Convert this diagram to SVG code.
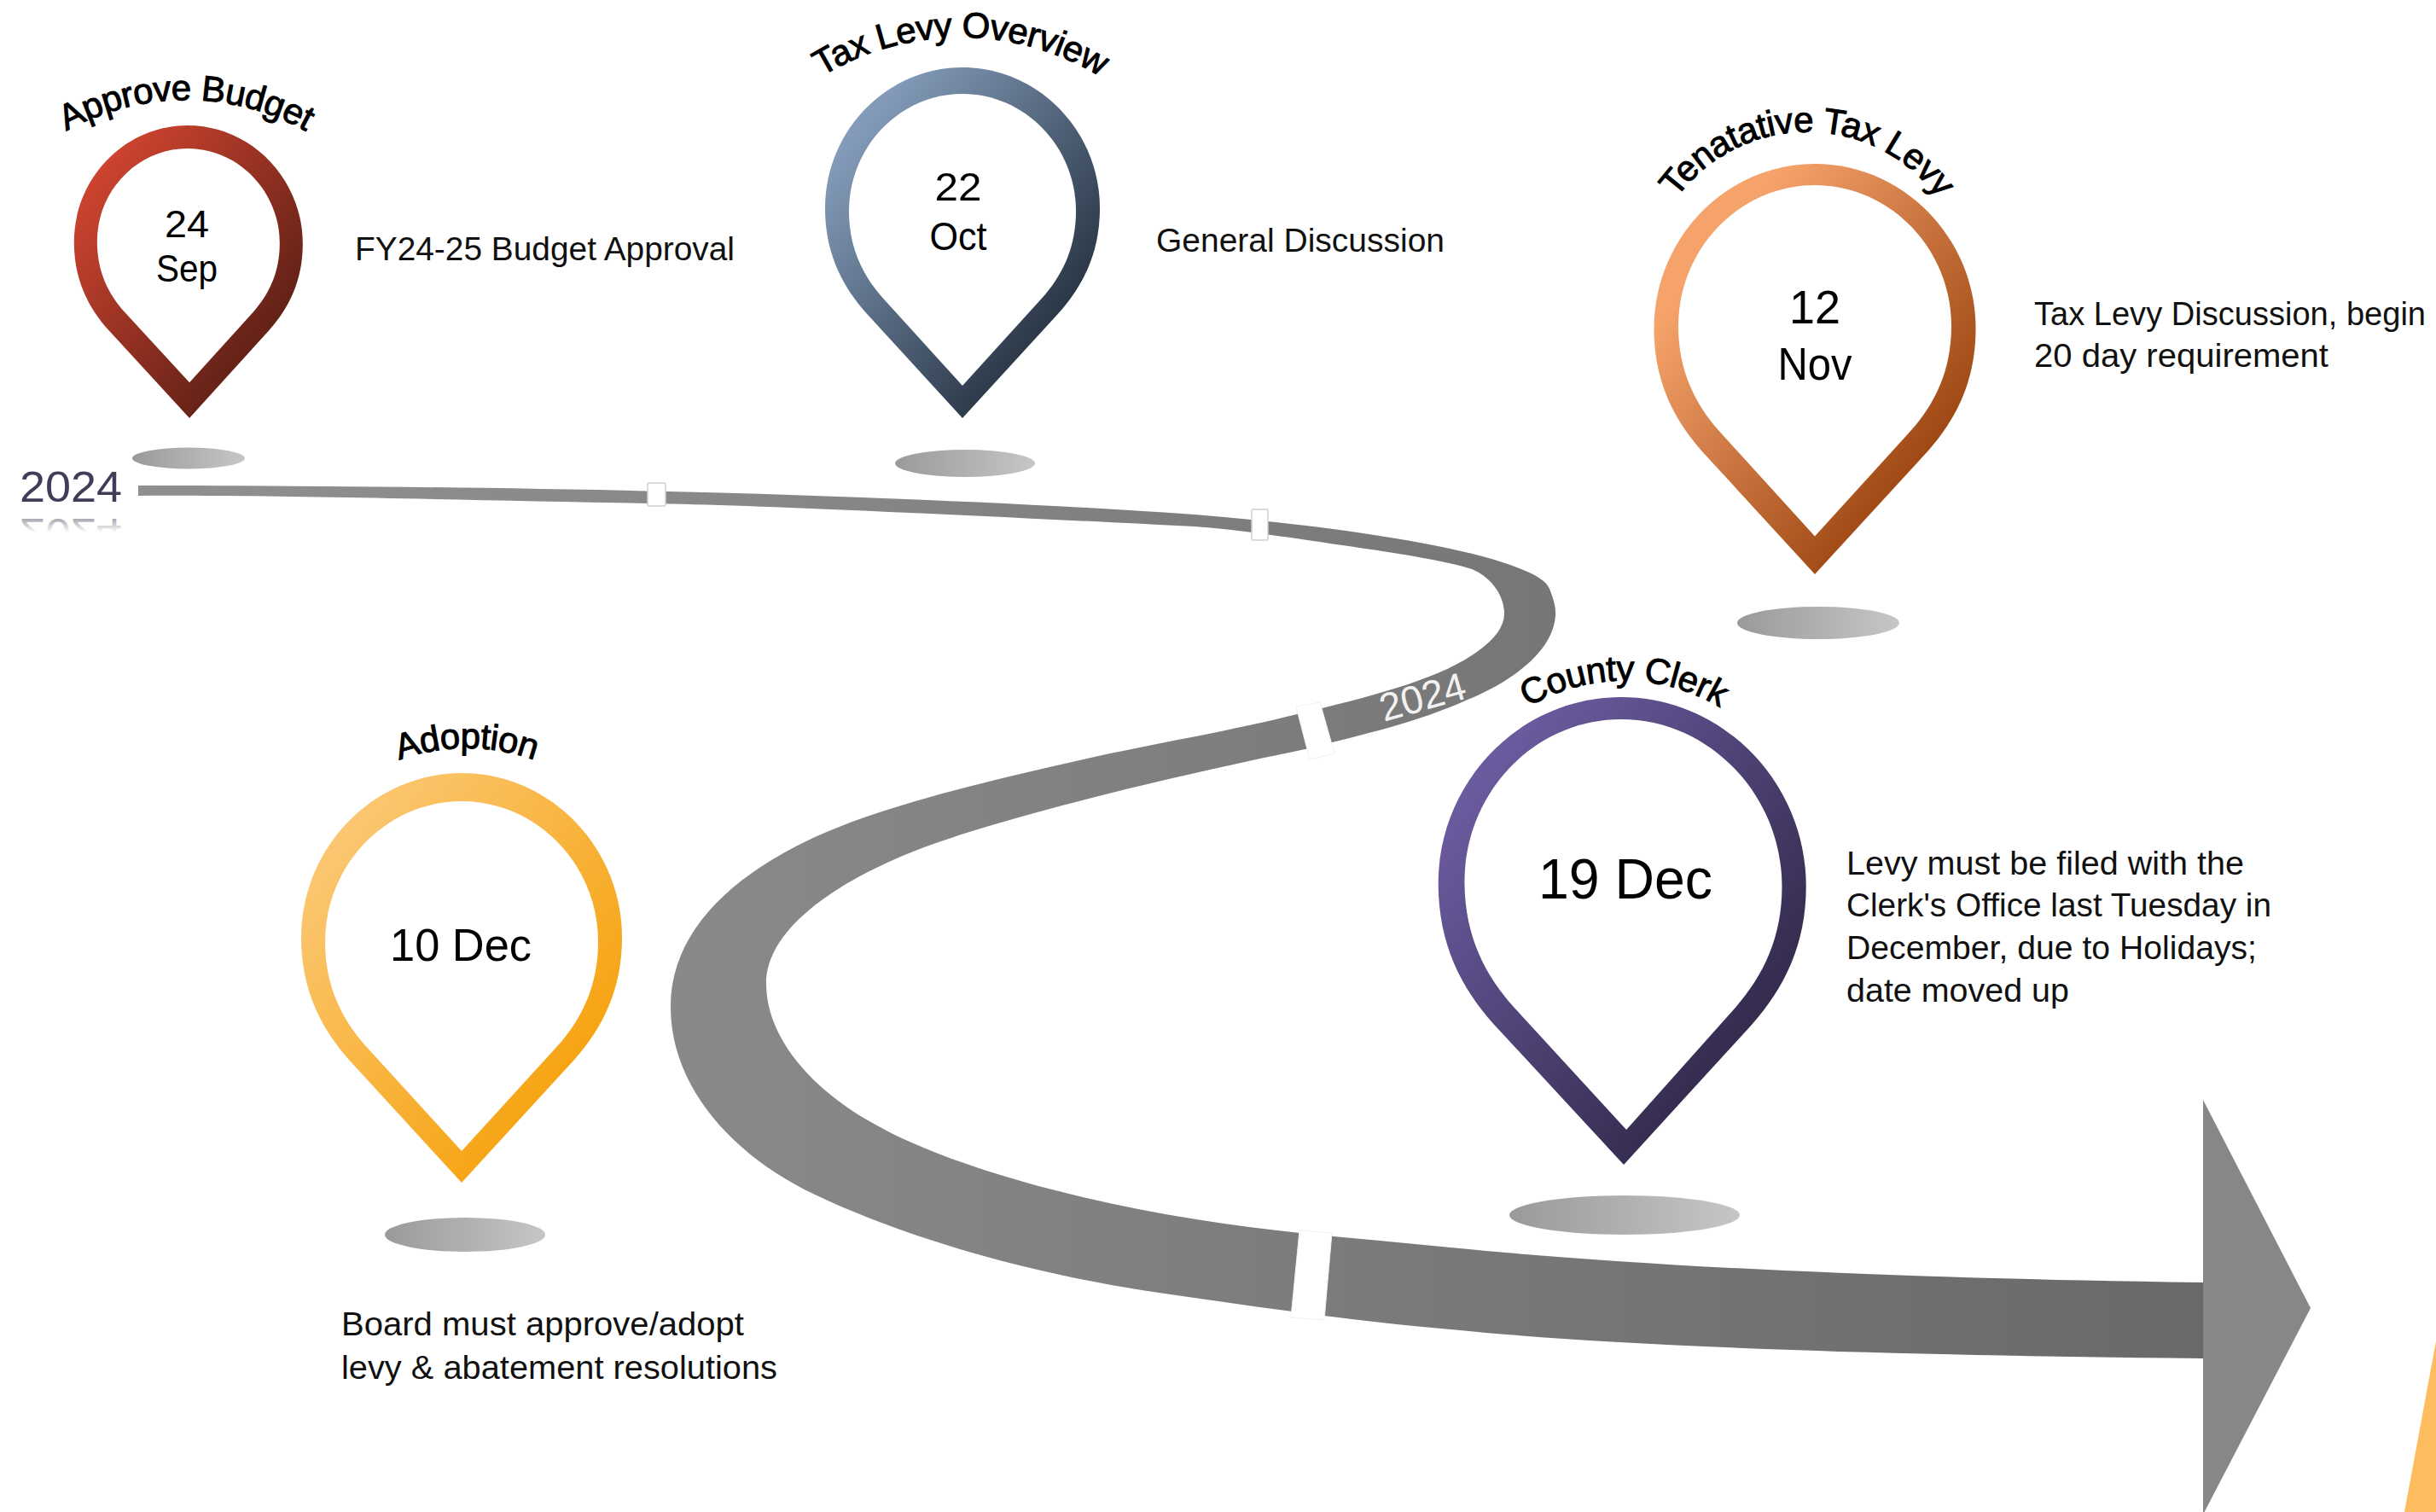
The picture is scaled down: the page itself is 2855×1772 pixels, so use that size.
<svg xmlns="http://www.w3.org/2000/svg" width="2855" height="1772" viewBox="0 0 2855 1772">
<style>
text{font-family:"Liberation Sans",Arial,sans-serif;fill:#000}
.arc{font-size:42px;stroke:#000;stroke-width:1px;letter-spacing:-.6px;text-anchor:middle}
.date{text-anchor:middle}
.body{font-size:38px;fill:#111}
.tick{fill:#fff;stroke:#cfcfcf;stroke-width:1.5}
.tick-big{fill:#fff;stroke:#f0f0f0;stroke-width:1}
.inner{fill:#fff}
.shadow{fill:url(#gShadow)}
</style>
<defs>
<path id="pin" d="M0,254 L-70,178 C-88,158 -100,134 -100,102 C-100,46 -55,0 0,0 C55,0 100,46 100,102 C100,134 88,158 70,178 Z"/>
<linearGradient id="gRed" x1="0" y1="0" x2="1" y2="1"><stop offset=".12" stop-color="#cf4430"/><stop offset=".88" stop-color="#521c13"/></linearGradient>
<linearGradient id="gBlue" x1="0" y1="0" x2="1" y2="1"><stop offset=".15" stop-color="#839bb9"/><stop offset=".88" stop-color="#1c2734"/></linearGradient>
<linearGradient id="gOrange" x1="0" y1="0" x2="1" y2="1"><stop offset=".2" stop-color="#f5a26b"/><stop offset=".8" stop-color="#9c4510"/></linearGradient>
<linearGradient id="gYellow" x1="0" y1="0" x2="1" y2="1"><stop offset=".15" stop-color="#fbc66f"/><stop offset=".8" stop-color="#f6a310"/></linearGradient>
<linearGradient id="gPurple" x1="0" y1="0" x2="1" y2="1"><stop offset=".15" stop-color="#6a5a9e"/><stop offset=".85" stop-color="#2e2645"/></linearGradient>
<linearGradient id="gShadow" x1="0" y1="0" x2="1" y2="0"><stop offset="0" stop-color="#9a9a9a"/><stop offset="1" stop-color="#c6c6c6"/></linearGradient>
<linearGradient id="gRoad" gradientUnits="userSpaceOnUse" x1="162" y1="0" x2="2582" y2="0"><stop offset="0" stop-color="#8f8f8f"/><stop offset=".3" stop-color="#888"/><stop offset=".65" stop-color="#787878"/><stop offset="1" stop-color="#696969"/></linearGradient>
<linearGradient id="gRefl" gradientUnits="userSpaceOnUse" x1="0" y1="588" x2="0" y2="572"><stop offset="0" stop-color="#a8a8b0"/><stop offset="1" stop-color="#fff"/></linearGradient>
<path id="a1" d="M34,184 A287,287 0 0 1 402,184"/>
<path id="a2" d="M925,117 A313,313 0 0 1 1327,117"/>
<path id="a3" d="M1931,311 A190,190 0 0 1 2305,311"/>
<path id="a4" d="M431,908 A232,232 0 0 1 663,908"/>
<path id="a5" d="M1737,875 A217,217 0 0 1 2069,875"/>
</defs>
<rect width="2855" height="1772" fill="#fff"/>
<g id="connectors">
<path id="road" fill="url(#gRoad)" d="M162,569 C500,569 1000,575 1400,603 C1550,615 1700,637 1770,662 C1798,672 1812,680 1816,690 C1820,700 1824,712 1823,722 C1820,760 1780,795 1720,820 C1660,847 1600,860 1530,878 C1400,905 1200,950 1083,993 C990,1028 898,1085 898,1153 C898,1215 950,1275 1019,1314 C1100,1362 1250,1405 1402,1429 C1500,1445 1600,1452 1700,1462 C1900,1482 2200,1498 2582,1503 L2582,1592 C2200,1588 1900,1578 1700,1558 C1580,1548 1450,1528 1338,1512 C1200,1490 1060,1450 955,1400 C860,1355 786,1275 786,1180 C786,1090 860,1025 955,981 C1040,943 1150,917 1274,889 C1350,872 1450,855 1520,837 C1600,818 1680,798 1725,768 C1750,752 1764,735 1763,717 C1762,695 1745,675 1725,667 C1705,660 1650,650 1600,643 C1560,637 1450,620 1400,617 C1200,607 900,592 760,590 C500,585 300,580 162,581 Z"/>
<polygon id="arrowhead" fill="#878787" points="2582,1289 2708,1533 2582,1775"/>
<rect class="tick" x="759" y="566" width="21" height="27" rx="2"/>
<rect class="tick" x="1467" y="597" width="19" height="36" rx="1"/>
<polygon class="tick-big" points="1519,828 1547,823 1564,883 1535,890"/>
<polygon class="tick-big" points="1523,1442 1561,1445 1552,1547 1513,1544"/>
<text id="road-year" x="1622" y="846" font-size="46" transform="rotate(-15.8 1622 846)" textLength="103" lengthAdjust="spacingAndGlyphs" style="fill:#f2f2f2">2024</text>
</g>
<g id="start-year">
<text x="23" y="588" font-size="50" textLength="120" lengthAdjust="spacingAndGlyphs" style="fill:#3f3d58">2024</text>
<text x="23" y="588" font-size="50" textLength="120" lengthAdjust="spacingAndGlyphs" transform="matrix(1 0 0 -1 0 1196)" style="fill:url(#gRefl)">2024</text>
</g>
<g id="node-approve-budget">
<ellipse class="shadow" cx="221" cy="537" rx="66" ry="12.5"/>
<use href="#pin" fill="url(#gRed)" transform="matrix(1.34 0 .008 1.35 220 147)"/>
<use href="#pin" class="inner" transform="matrix(1.07 0 .008 1.08 220 174)"/>
<text class="arc"><textPath href="#a1" startOffset="50%">Approve Budget</textPath></text>
<text class="date" x="219" y="278" font-size="45" textLength="52" lengthAdjust="spacingAndGlyphs">24</text>
<text class="date" x="219" y="330" font-size="44" textLength="72" lengthAdjust="spacingAndGlyphs">Sep</text>
<text class="body" x="416" y="305" textLength="445" lengthAdjust="spacingAndGlyphs">FY24-25 Budget Approval</text>
</g>
<g id="node-tax-levy-overview">
<ellipse class="shadow" cx="1131" cy="543" rx="82" ry="16"/>
<use href="#pin" fill="url(#gBlue)" transform="translate(1128,79) scale(1.61,1.618)"/>
<use href="#pin" class="inner" transform="translate(1128,110) scale(1.33,1.346)"/>
<text class="arc"><textPath href="#a2" startOffset="50%">Tax Levy Overview</textPath></text>
<text class="date" x="1123" y="235" font-size="47" textLength="55" lengthAdjust="spacingAndGlyphs">22</text>
<text class="date" x="1123" y="293" font-size="46" textLength="67" lengthAdjust="spacingAndGlyphs">Oct</text>
<text class="body" x="1355" y="295" textLength="338" lengthAdjust="spacingAndGlyphs">General Discussion</text>
</g>
<g id="node-tentative-tax-levy">
<ellipse class="shadow" cx="2131" cy="730" rx="95" ry="19"/>
<use href="#pin" fill="url(#gOrange)" transform="translate(2127,192) scale(1.885,1.894)"/>
<use href="#pin" class="inner" transform="translate(2127,217) scale(1.6,1.62)"/>
<text class="arc"><textPath href="#a3" startOffset="50%">Tenatative Tax Levy</textPath></text>
<text class="date" x="2127" y="379" font-size="56" textLength="60" lengthAdjust="spacingAndGlyphs">12</text>
<text class="date" x="2127" y="445" font-size="54" textLength="87" lengthAdjust="spacingAndGlyphs">Nov</text>
<text class="body" x="2384" y="381" textLength="459" lengthAdjust="spacingAndGlyphs">Tax Levy Discussion, begin</text>
<text class="body" x="2384" y="430" textLength="345" lengthAdjust="spacingAndGlyphs">20 day requirement</text>
</g>
<g id="node-adoption">
<ellipse class="shadow" cx="545" cy="1447" rx="94" ry="20"/>
<use href="#pin" fill="url(#gYellow)" transform="translate(541,906) scale(1.88,1.89)"/>
<use href="#pin" class="inner" transform="translate(541,939) scale(1.6,1.614)"/>
<text class="arc"><textPath href="#a4" startOffset="50%">Adoption</textPath></text>
<text class="date" x="540" y="1126" font-size="54" textLength="166" lengthAdjust="spacingAndGlyphs">10 Dec</text>
<text class="body" x="400" y="1565" textLength="472" lengthAdjust="spacingAndGlyphs">Board must approve/adopt</text>
<text class="body" x="400" y="1616" textLength="511" lengthAdjust="spacingAndGlyphs">levy &amp; abatement resolutions</text>
</g>
<g id="node-county-clerk">
<ellipse class="shadow" cx="1904" cy="1424" rx="135" ry="23"/>
<use href="#pin" fill="url(#gPurple)" transform="matrix(2.155 0 .012 2.157 1900 817)"/>
<use href="#pin" class="inner" transform="matrix(1.86 0 .024 1.894 1900 843)"/>
<text class="arc"><textPath href="#a5" startOffset="50%">County Clerk</textPath></text>
<text class="date" x="1905" y="1053" font-size="66" textLength="204" lengthAdjust="spacingAndGlyphs">19 Dec</text>
<text class="body" x="2164" y="1025" textLength="466" lengthAdjust="spacingAndGlyphs">Levy must be filed with the</text>
<text class="body" x="2164" y="1074" textLength="498" lengthAdjust="spacingAndGlyphs">Clerk's Office last Tuesday in</text>
<text class="body" x="2164" y="1124" textLength="481" lengthAdjust="spacingAndGlyphs">December, due to Holidays;</text>
<text class="body" x="2164" y="1174" textLength="261" lengthAdjust="spacingAndGlyphs">date moved up</text>
</g>
<polygon id="corner-accent" fill="#fdbc5e" points="2855,1572 2855,1772 2818,1772"/>
</svg>
